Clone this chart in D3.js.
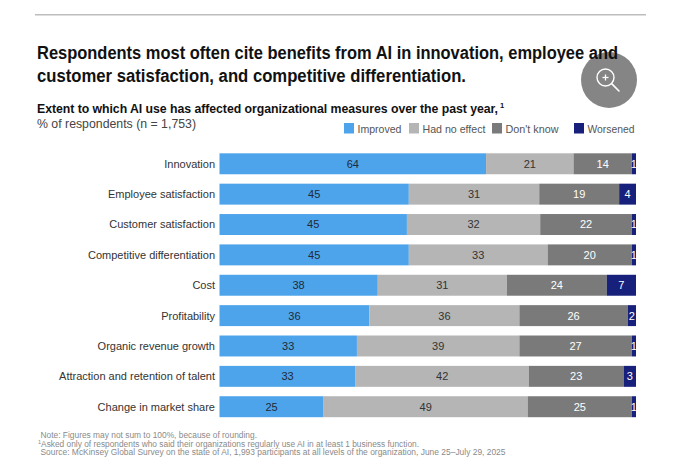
<!DOCTYPE html>
<html>
<head>
<meta charset="utf-8">
<script src="https://cdn.jsdelivr.net/npm/d3@7"></script>
<style>
  html, body { margin: 0; padding: 0; background: #fff; }
  svg { display: block; }
  text { font-family: "Liberation Sans", Arial, sans-serif; }
</style>
</head>
<body>
<svg id="chart" width="680" height="471"></svg>
<script>
// ---------- DATA ----------
const categories = [
  "Innovation",
  "Employee satisfaction",
  "Customer satisfaction",
  "Competitive differentiation",
  "Cost",
  "Profitability",
  "Organic revenue growth",
  "Attraction and retention of talent",
  "Change in market share"
];
const seriesNames = ["Improved", "Had no effect", "Don't know", "Worsened"];
const improved   = [64, 45, 45, 45, 38, 36, 33, 33, 25];
const noEffect   = [21, 31, 32, 33, 31, 36, 39, 42, 49];
const dontKnow   = [14, 19, 22, 20, 24, 26, 27, 23, 25];
const worsened   = [ 1,  4,  1,  1,  7,  2,  1,  3,  1];

const titleLines = [
  "Respondents most often cite benefits from AI in innovation, employee and",
  "customer satisfaction, and competitive differentiation."
];
const subtitle = "Extent to which AI use has affected organizational measures over the past year,";
const unitLabel = "% of respondents (n = 1,753)";
const footnotes = [
  "Note: Figures may not sum to 100%, because of rounding.",
  "Asked only of respondents who said their organizations regularly use AI in at least 1 business function.",
  "Source: McKinsey Global Survey on the state of AI, 1,993 participants at all levels of the organization, June 25\u2013July 29, 2025"
];

// ---------- STYLE / LAYOUT ----------
const colors = ["#4ea4ea", "#b5b5b5", "#7a7a7a", "#17207a"];
const labelColors = ["#1f2a3a", "#333333", "#ffffff", "#ffffff"];

const svg = d3.select("#chart");

// build table
const seriesValues = [improved, noEffect, dontKnow, worsened];
const rows = categories.map((c, i) => {
  const r = { category: c };
  seriesNames.forEach((s, k) => r[s] = seriesValues[k][i]);
  r.total = d3.sum(seriesNames, s => r[s]);
  return r;
});
const normRows = rows.map(r => {
  const o = { category: r.category };
  seriesNames.forEach(s => o[s] = r[s] / r.total);
  return o;
});
const stacked = d3.stack().keys(seriesNames)(normRows);

const x = d3.scaleLinear().domain([0, 1]).range([219.5, 636]);
const y = d3.scaleBand().domain(categories).range([148.6, 421.9]).paddingInner(0.31).paddingOuter(0.155);
const color = d3.scaleOrdinal().domain(seriesNames).range(colors);
const lblColor = d3.scaleOrdinal().domain(seriesNames).range(labelColors);

// top rule
svg.append("line").attr("x1", 35).attr("x2", 646).attr("y1", 14.7).attr("y2", 14.7)
  .attr("stroke", "#bdbdbd").attr("stroke-width", 1.6);

// zoom icon
const icon = svg.append("g");
icon.append("circle").attr("cx", 609).attr("cy", 80).attr("r", 28).attr("fill", "#858585");
icon.append("circle").attr("cx", 605.5).attr("cy", 77.5).attr("r", 8.5).attr("fill", "none")
  .attr("stroke", "#fff").attr("stroke-width", 1.4);
icon.append("line").attr("x1", 611.6).attr("y1", 83.6).attr("x2", 619).attr("y2", 91)
  .attr("stroke", "#fff").attr("stroke-width", 1.6).attr("stroke-linecap", "round");
icon.append("line").attr("x1", 602.5).attr("x2", 608.5).attr("y1", 77.5).attr("y2", 77.5)
  .attr("stroke", "#fff").attr("stroke-width", 1.3);
icon.append("line").attr("x1", 605.5).attr("x2", 605.5).attr("y1", 74.5).attr("y2", 80.5)
  .attr("stroke", "#fff").attr("stroke-width", 1.3);

function fit(sel, target) {
  const w = sel.node().getComputedTextLength();
  if (Math.abs(w - target) > 1) {
    sel.attr("textLength", target).attr("lengthAdjust", "spacingAndGlyphs");
  }
}
// fit by letter-spacing (keeps natural measured width equal to the target)
function fitSpacing(sel, target) {
  const w = sel.node().getComputedTextLength();
  const n = sel.text().length;
  sel.attr("letter-spacing", ((target - w) / n).toFixed(3));
}

// title
const titleBaselines = [59.3, 81.5];
const titleWidths = [581, 429];
titleLines.forEach((t, i) => {
  const tt = svg.append("text").attr("x", 37).attr("y", titleBaselines[i])
    .attr("font-size", 17.5).attr("font-weight", "bold").attr("fill", "#111").text(t);
  fit(tt, titleWidths[i]);
});

// subtitle
const subW = 461;
const st = svg.append("text").attr("x", 37).attr("y", 113.3)
  .attr("font-size", 12.3).attr("font-weight", "bold").attr("fill", "#111").text(subtitle);
fitSpacing(st, subW);
const stEnd = 37 + st.node().getComputedTextLength();
svg.append("text").attr("x", Math.max(stEnd, 37 + subW) + 2).attr("y", 107.5)
  .attr("font-size", 7.5).attr("font-weight", "bold").attr("fill", "#111").text("1");

const ul = svg.append("text").attr("x", 37).attr("y", 128.3)
  .attr("font-size", 12.5).attr("fill", "#444").text(unitLabel);
fit(ul, 159);

// legend
const legendX = [344, 409, 492, 574];
const legendTextW = [44, 63, 53, 47];
const lg = svg.append("g").selectAll("g").data(seriesNames).join("g")
  .attr("transform", (d, i) => `translate(${legendX[i]},123)`);
lg.append("rect").attr("width", 10).attr("height", 10.5).attr("fill", d => color(d));
lg.append("text").attr("x", 13.5).attr("y", 9.5).attr("font-size", 11).attr("fill", "#555")
  .text(d => d).each(function(d, i) { fit(d3.select(this), legendTextW[i]); });

// category labels
svg.append("g").selectAll("text").data(categories).join("text")
  .attr("x", 215).attr("y", d => y(d) + y.bandwidth() / 2)
  .attr("dy", "0.36em").attr("text-anchor", "end")
  .attr("font-size", 11).attr("fill", "#333").text(d => d);

// bars
const layers = svg.append("g").selectAll("g").data(stacked).join("g")
  .attr("fill", d => color(d.key));
layers.selectAll("rect").data(d => d).join("rect")
  .attr("x", d => x(d[0]))
  .attr("y", d => y(d.data.category))
  .attr("width", d => x(d[1]) - x(d[0]))
  .attr("height", y.bandwidth());

// value labels
const lblG = svg.append("g");
stacked.forEach(layer => {
  lblG.selectAll(null).data(layer).join("text")
    .attr("x", d => (x(d[0]) + x(d[1])) / 2)
    .attr("y", d => y(d.data.category) + y.bandwidth() / 2)
    .attr("dy", "0.36em").attr("text-anchor", "middle")
    .attr("font-size", 11).attr("fill", lblColor(layer.key))
    .text((d, i) => rows[i][layer.key]);
});

// footnotes
const fnBaselines = [438.3, 446.8, 455.3];
const fnX = [40.5, 38, 40.5];
const fnW = [216.5, 381, 465];
footnotes.forEach((t, i) => {
  const ft = svg.append("text").attr("x", fnX[i]).attr("y", fnBaselines[i])
    .attr("font-size", 8.3).attr("fill", "#8a8a8a");
  if (i === 1) {
    ft.append("tspan").attr("font-size", 5.5).attr("dy", -3).text("1");
    ft.append("tspan").attr("dy", 3).text(t);
  } else {
    ft.text(t);
  }
  fit(ft, fnW[i]);
});
</script>
</body>
</html>
